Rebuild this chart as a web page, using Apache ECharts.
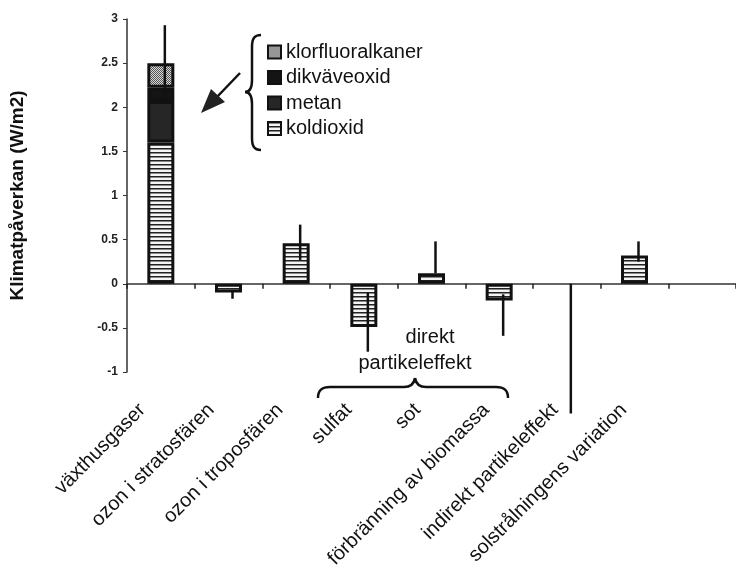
<!DOCTYPE html>
<html>
<head>
<meta charset="utf-8">
<script src="https://cdn.jsdelivr.net/npm/echarts@6/dist/echarts.min.js"></script>
<style>
  html, body { margin: 0; padding: 0; background: #fff; }
  #klimat { width: 736px; height: 571px; }
</style>
</head>
<body>
<div id="klimat"></div>
<script>
// kategorier och värden (W/m2)
var categories = ['växthusgaser', 'ozon i stratosfären', 'ozon i troposfären', 'sulfat', 'sot',
    'förbränning av biomassa', 'indirekt partikeleffekt', 'solstrålningens variation', ''];
var koldioxid = [1.6, '-', '-', '-', '-', '-', '-', '-', '-'];
var metan = [0.47, '-', '-', '-', '-', '-', '-', '-', '-'];
var dikvaveoxid = [0.15, '-', '-', '-', '-', '-', '-', '-', '-'];
var klorfluoralkaner = [0.28, '-', '-', '-', '-', '-', '-', '-', '-'];
var ovriga = ['-', -0.1, 0.46, -0.49, 0.12, -0.19, '-', 0.32, '-'];
// osäkerhet (streck)
var errLow = [2.1, -0.08, 0.27, -0.1, 0.12, -0.12, 0, 0.25, null];
var errHigh = [2.93, -0.17, 0.67, -0.77, 0.48, -0.59, -1.47, 0.48, null];
var legendNames = ['klorfluoralkaner', 'dikväveoxid', 'metan', 'koldioxid'];

var FONT = 'Liberation Sans, Arial, sans-serif';
var INK = { stroke: '#111', lineWidth: 2.5, fill: 'none' };

function makePattern(w, h, draw) {
    var c = document.createElement('canvas');
    c.width = w;
    c.height = h;
    draw(c.getContext('2d'));
    return { image: c, repeat: 'repeat' };
}

var stripes = makePattern(4, 4, function(ctx) {
    ctx.fillStyle = '#f4f4f4';
    ctx.fillRect(0, 0, 4, 4);
    ctx.fillStyle = '#222';
    ctx.fillRect(0, 0, 4, 1);
    ctx.fillStyle = '#888';
    ctx.fillRect(0, 1, 4, 1);
});
var checker = makePattern(2, 2, function(ctx) {
    ctx.fillStyle = '#d8d8d8';
    ctx.fillRect(0, 0, 2, 2);
    ctx.fillStyle = '#555';
    ctx.fillRect(0, 0, 1, 1);
    ctx.fillRect(1, 1, 1, 1);
});

// segment för klamrarna: [x1,y1,x2,y2] = linje, 8 tal = bezier
function brace(segs) {
    var out = [];
    for (var i = 0; i < segs.length; i++) {
        var s = segs[i];
        if (s.length === 4) {
            out.push({ type: 'line', shape: { x1: s[0], y1: s[1], x2: s[2], y2: s[3] }, style: INK });
        } else {
            out.push({ type: 'bezierCurve', shape: { x1: s[0], y1: s[1], cpx1: s[2], cpy1: s[3], cpx2: s[4], cpy2: s[5], x2: s[6], y2: s[7] }, style: INK });
        }
    }
    return out;
}

var klimat = {
    $chart: null,

    init: function() {
        this.$chart = echarts.init(document.getElementById('klimat'), null, { renderer: 'canvas' });
        this.$chart.setOption(this.buildOption());
    },

    barSeries: function(name, data, color) {
        return {
            name: name,
            type: 'bar',
            stack: 'total',
            barWidth: 27,
            data: data,
            itemStyle: { color: color, borderColor: '#111', borderWidth: 3 },
            emphasis: { disabled: true }
        };
    },

    buildGraphic: function() {
        var g = [];
        // klammer vid förklaringen
        g = g.concat(brace([
            [261, 35, 254, 35, 252, 39, 252, 47],
            [252, 47, 252, 80],
            [252, 80, 252, 88, 250, 92, 245, 92],
            [245, 92, 250, 92, 252, 96, 252, 104],
            [252, 104, 252, 138],
            [252, 138, 252, 146, 254, 150, 261, 150]
        ]));
        // klammer under direkt partikeleffekt
        g = g.concat(brace([
            [318, 398, 318, 390, 322, 387, 330, 387],
            [330, 387, 404, 387],
            [404, 387, 410, 387, 414, 384, 415, 378],
            [415, 378, 416, 384, 420, 387, 426, 387],
            [426, 387, 496, 387],
            [496, 387, 504, 387, 508, 390, 508, 398]
        ]));
        // pil mot stapeln
        g.push({ type: 'line', shape: { x1: 240, y1: 73, x2: 216, y2: 98 }, style: INK });
        g.push({ type: 'polygon', shape: { points: [[201, 113], [225, 102], [211, 89]] }, style: { fill: '#222' } });
        g.push({
            type: 'text', x: 430, y: 337,
            style: { text: 'direkt', fontSize: 20, fill: '#111', align: 'center', verticalAlign: 'middle', fontFamily: FONT }
        });
        g.push({
            type: 'text', x: 415, y: 363,
            style: { text: 'partikeleffekt', fontSize: 20, fill: '#111', align: 'center', verticalAlign: 'middle', fontFamily: FONT }
        });
        return g;
    },

    buildOption: function() {
        var errData = [];
        for (var i = 0; i < categories.length; i++) {
            if (errLow[i] !== null) errData.push([i, errLow[i], errHigh[i]]);
        }

        return {
            animation: false,
            textStyle: { fontFamily: FONT },
            legend: {
                data: legendNames,
                orient: 'vertical',
                left: 262,
                top: 37,
                padding: 5,
                itemWidth: 13,
                itemHeight: 13,
                itemGap: 5.5,
                icon: 'rect',
                itemStyle: { borderColor: '#111', borderWidth: 2 },
                textStyle: { fontSize: 20, color: '#111', fontFamily: FONT },
                selectedMode: false
            },
            grid: [
                { left: 122, top: 19, width: 619, height: 353 },
                { left: 108, top: 19, width: 619, height: 353 }
            ],
            xAxis: [{
                type: 'category',
                gridIndex: 0,
                data: categories,
                axisLine: { onZero: true, lineStyle: { color: '#333', width: 1.5 } },
                axisTick: { show: true, length: 5, interval: 0, lineStyle: { color: '#222', width: 1.5 } },
                axisLabel: { show: false }
            }, {
                type: 'category',
                gridIndex: 1,
                data: categories,
                position: 'bottom',
                axisLine: { show: false, onZero: false },
                axisTick: { show: false },
                axisLabel: {
                    interval: 0,
                    rotate: 45,
                    margin: 40,
                    fontSize: 20,
                    color: '#111',
                    fontFamily: FONT
                }
            }],
            yAxis: [{
                type: 'value',
                gridIndex: 0,
                min: -1,
                max: 3,
                interval: 0.5,
                name: 'Klimatpåverkan (W/m2)',
                nameLocation: 'middle',
                nameGap: 100,
                nameTextStyle: { fontSize: 19, fontWeight: 'bold', color: '#111', fontFamily: FONT },
                axisLine: { show: true, lineStyle: { color: '#333', width: 1.5 } },
                axisTick: { show: true, length: 4, lineStyle: { color: '#333' } },
                splitLine: { show: false },
                axisLabel: { fontSize: 12, fontWeight: 'bold', color: '#222', margin: 9 }
            }, {
                type: 'value',
                gridIndex: 1,
                min: -1,
                max: 3,
                show: false
            }],
            series: [
                this.barSeries('koldioxid', koldioxid, stripes),
                this.barSeries('metan', metan, '#262626'),
                this.barSeries('dikväveoxid', dikvaveoxid, '#141414'),
                this.barSeries('klorfluoralkaner', klorfluoralkaner, checker),
                this.barSeries('övriga', ovriga, stripes),
                {
                    name: 'osäkerhet',
                    type: 'custom',
                    clip: false,
                    z: 5,
                    data: errData,
                    encode: { x: 0, y: [1, 2] },
                    renderItem: function(params, api) {
                        var a = api.coord([api.value(0), api.value(1)]);
                        var b = api.coord([api.value(0), api.value(2)]);
                        return {
                            type: 'line',
                            shape: { x1: a[0] + 4, y1: a[1], x2: b[0] + 4, y2: b[1] },
                            style: { stroke: '#111', lineWidth: 2.5 }
                        };
                    }
                }
            ],
            graphic: this.buildGraphic()
        };
    }
};

klimat.init();
</script>
</body>
</html>
